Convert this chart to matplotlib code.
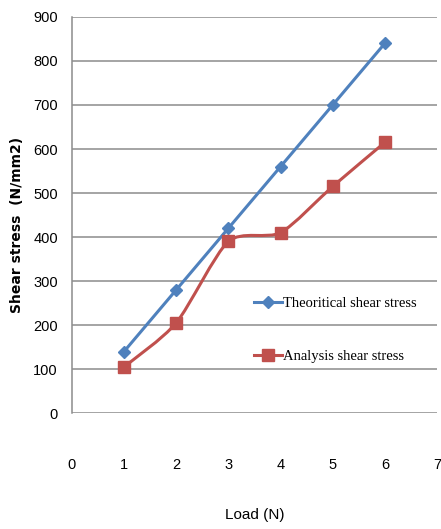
import numpy as np
import matplotlib
matplotlib.use('Agg')
import matplotlib.pyplot as plt
from matplotlib.path import Path
from matplotlib.patches import PathPatch
from matplotlib.lines import Line2D

load = [1, 2, 3, 4, 5, 6]
theoretical = [140, 280, 420, 560, 700, 840]
analysis = [105, 205, 390, 410, 515, 615]

blue = '#4F81BD'
red = '#C0504D'
tick_font = ['Liberation Sans', 'DejaVu Sans']

fig = plt.figure(figsize=(4.41, 5.29), dpi=100)
ax = fig.add_axes([0.163, 0.219, 0.828, 0.749])

ax.plot(load, theoretical, color=blue, lw=2.2, marker='D', ms=6, zorder=3)

# smoothed red line (Catmull-Rom -> bezier), markers on the data points
xs, ys = np.array(load, float), np.array(analysis, float)
verts = [(xs[0], ys[0])]
codes = [Path.MOVETO]
for i in range(len(xs) - 1):
    p0 = np.array([xs[max(i - 1, 0)], ys[max(i - 1, 0)]])
    p1 = np.array([xs[i], ys[i]])
    p2 = np.array([xs[i + 1], ys[i + 1]])
    p3 = np.array([xs[min(i + 2, len(xs) - 1)], ys[min(i + 2, len(xs) - 1)]])
    c1 = p1 + (p2 - p0) / 8
    c2 = p2 - (p3 - p1) / 8
    verts += [tuple(c1), tuple(c2), tuple(p2)]
    codes += [Path.CURVE4] * 3
ax.add_patch(PathPatch(Path(verts, codes), fc='none', ec=red, lw=2.2, zorder=3))
ax.plot(load, analysis, ls='none', color=red, marker='s', ms=8, zorder=4)

ax.set_xlim(0, 7)
ax.set_ylim(0, 900)
ax.set_xticks(range(0, 8))
ax.set_yticks(range(0, 901, 100))
ax.yaxis.grid(True, color='#8c8c8c', lw=1.1)
ax.set_axisbelow(True)
for s in ['top', 'right', 'bottom']:
    ax.spines[s].set_visible(False)
ax.spines['left'].set_color('#8c8c8c')
ax.spines['left'].set_linewidth(1.1)
ax.tick_params(axis='x', length=0, pad=32, labelsize=10.5)
ax.tick_params(axis='y', length=0, pad=10, labelsize=10.5)
for lab in ax.get_xticklabels() + ax.get_yticklabels():
    lab.set_family(tick_font)

ax.set_xlabel('Load (N)', family=tick_font, fontsize=11, labelpad=26)
fig.text(0.038, 1 - 225 / 529, 'Shear stress  (N/mm2)', rotation=90,
         fontweight='bold', fontsize=10, ha='center', va='center')

handles = [Line2D([], [], color=blue, lw=2.2, marker='D', ms=6),
           Line2D([], [], color=red, lw=2.2, marker='s', ms=8)]
ax.legend(handles, ['Theoritical shear stress', 'Analysis shear stress'],
          loc='center left', bbox_to_anchor=(0.463, 0.21), frameon=False,
          prop={'family': 'Liberation Serif', 'size': 10.5},
          labelspacing=2.7, handlelength=1.9, handletextpad=0.1)

fig.savefig('out.png', dpi=100)
